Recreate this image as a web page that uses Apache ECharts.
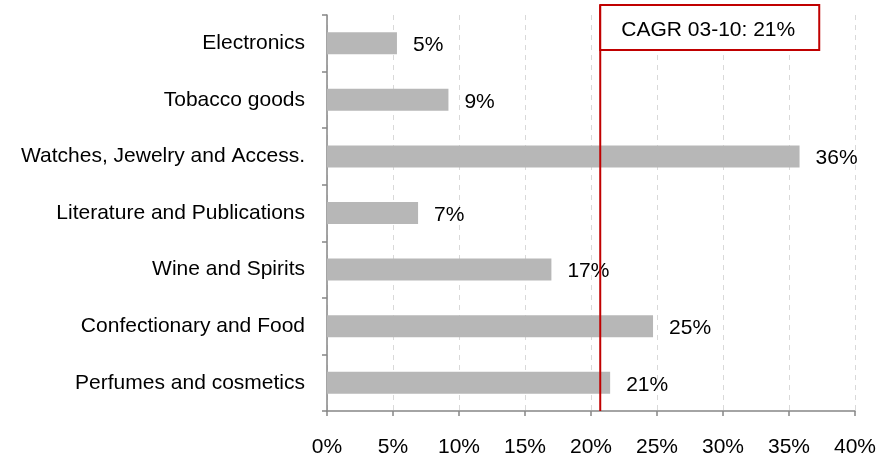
<!DOCTYPE html>
<html>
<head>
<meta charset="utf-8">
<script src="https://cdn.jsdelivr.net/npm/echarts@6/dist/echarts.min.js"></script>
<style>
html,body{margin:0;padding:0;background:#fff;}
#chart{width:882px;height:461px;}
</style>
</head>
<body>
<div id="chart"></div>
<script>
// Growth by product category, top to bottom
const categories = [
  'Electronics',
  'Tobacco goods',
  'Watches, Jewelry and Access.',
  'Literature and Publications',
  'Wine and Spirits',
  'Confectionary and Food',
  'Perfumes and cosmetics'
];
const growth = [5.3, 9.2, 35.8, 6.9, 17.0, 24.7, 21.45];
const xTicks = [0, 5, 10, 15, 20, 25, 30, 35, 40];
const cagrValue = 20.7;
const cagrText = 'CAGR 03-10: 21%';

const FONT = '"Liberation Sans", Arial, sans-serif';
const FS = 21;
const chart = echarts.init(document.getElementById('chart'));

chart.setOption({
  animation: false,
  backgroundColor: '#fff',
  grid: { left: 327, right: 27, top: 15, bottom: 50 },
  xAxis: {
    type: 'value',
    min: xTicks[0],
    max: xTicks[xTicks.length - 1],
    interval: 5,
    axisLine: { show: true, lineStyle: { color: '#868686', width: 1.5 } },
    axisTick: { show: true, length: 5, lineStyle: { color: '#868686', width: 1.5 } },
    axisLabel: {
      margin: 26,
      color: '#000',
      fontFamily: FONT,
      fontSize: FS,
      formatter: v => v + '%'
    },
    splitLine: { show: true, lineStyle: { color: '#d9d9d9', type: [5, 5], width: 1 } }
  },
  yAxis: {
    type: 'category',
    data: categories,
    inverse: true,
    axisLine: { show: true, lineStyle: { color: '#868686', width: 1.5 } },
    axisTick: { show: true, length: 5, inside: false, lineStyle: { color: '#868686', width: 1.5 } },
    axisLabel: {
      margin: 22,
      color: '#000',
      fontFamily: FONT,
      fontSize: FS,
      padding: [5, 0, 0, 0]
    },
    splitLine: { show: false }
  },
  series: [{
    type: 'bar',
    data: growth,
    barWidth: 22,
    itemStyle: { color: '#b7b7b7' },
    label: {
      show: true,
      position: 'right',
      distance: 16,
      offset: [0, 2],
      color: '#000',
      fontFamily: FONT,
      fontSize: FS,
      formatter: p => Math.round(p.value) + '%'
    }
  }]
});

// CAGR reference line with its boxed caption
const n = categories.length;
const firstY = chart.convertToPixel({ yAxisIndex: 0 }, categories[0]);
const lastY = chart.convertToPixel({ yAxisIndex: 0 }, categories[n - 1]);
const halfBand = (lastY - firstY) / (n - 1) / 2;
const axisY = lastY + halfBand;
const lineX = chart.convertToPixel({ xAxisIndex: 0 }, cagrValue);
const boxTop = 5;
chart.setOption({
  graphic: [
    {
      type: 'line',
      z: 100,
      shape: { x1: lineX, y1: boxTop, x2: lineX, y2: axisY },
      style: { stroke: '#c00000', lineWidth: 2 }
    },
    {
      type: 'rect',
      z: 100,
      shape: { x: lineX, y: boxTop, width: 219, height: 45 },
      style: { fill: '#fff', stroke: '#c00000', lineWidth: 2 }
    },
    {
      type: 'text',
      z: 101,
      x: lineX + 108,
      y: boxTop + 25,
      style: {
        text: cagrText,
        fill: '#000',
        font: FS + 'px ' + FONT,
        align: 'center',
        verticalAlign: 'middle'
      }
    }
  ]
});
</script>
</body>
</html>
